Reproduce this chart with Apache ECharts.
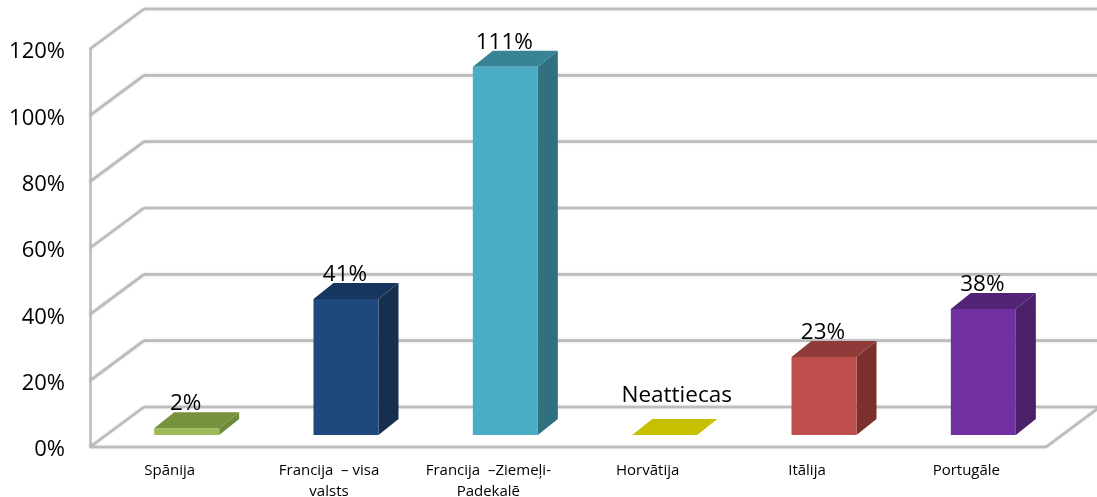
<!DOCTYPE html>
<html>
<head>
<meta charset="utf-8">
<style>html,body{margin:0;padding:0;background:#fff}#c{width:1097px;height:497px}</style>
<script src="https://cdn.jsdelivr.net/npm/echarts@6/dist/echarts.min.js"></script>
</head>
<body>
<div id="c"></div>
<script>
var categories = ['Spānija', 'Francija  – visa\nvalsts', 'Francija  –Ziemeļi-\nPadekalē', 'Horvātija', 'Itālija', 'Portugāle'];
var values = [2, 41, 111, 0, 23.5, 38];
var valueLabels = ['2%', '41%', '111%', 'Neattiecas', '23%', '38%'];
var frontColors = ['#9BBB59', '#1F497D', '#4BACC6', '#C6C000', '#C0504D', '#7030A0'];
var topColors = ['#76923C', '#17365D', '#378497', '#C6C000', '#8E3B39', '#512477'];
var sideColors = ['#6F8A38', '#172F4F', '#31707F', '#C6C000', '#7C302E', '#4A2069'];
var gridTicks = [0, 20, 40, 60, 80, 100, 120];

// 3D projection styling (pixels)
var WALL_DX = 54, WALL_DY = -40;
var BAR_DX = 17, BAR_DY = -12;
var BAR_DEPTH_X = 20, BAR_DEPTH_Y = -16;
var BAR_RATIO = 0.408;
var LINE = { stroke: '#BCBCBC', lineWidth: 2.6, shadowColor: 'rgba(120,120,120,0.35)', shadowBlur: 2 };

function renderGrid(params, api) {
  var y = api.coord([0, api.value(0)])[1];
  var cs = params.coordSys;
  var l = cs.x, r = cs.x + cs.width;
  var children = [
    { type: 'line', shape: { x1: l + WALL_DX, y1: y + WALL_DY, x2: r + WALL_DX + 2, y2: y + WALL_DY }, style: LINE },
    { type: 'line', shape: { x1: l, y1: y, x2: l + WALL_DX, y2: y + WALL_DY }, style: LINE }
  ];
  if (api.value(0) === 0) {
    children.push({ type: 'line', shape: { x1: r, y1: y, x2: r + WALL_DX, y2: y + WALL_DY }, style: LINE });
    children.push({ type: 'line', shape: { x1: l, y1: y, x2: r, y2: y }, style: LINE });
  }
  return { type: 'group', children: children };
}

function renderBar(params, api) {
  var i = params.dataIndex;
  var w = api.size([1, 0])[0] * BAR_RATIO;
  var base = api.coord([i, 0]);
  var top = api.coord([i, api.value(1)]);
  var x0 = base[0] + BAR_DX - w / 2, x1 = x0 + w;
  var yb = base[1] + BAR_DY, yt = top[1] + BAR_DY;
  var dx = BAR_DEPTH_X, dy = BAR_DEPTH_Y;
  var kids = [];
  if (yb - yt > 0.5) {
    kids.push({ type: 'polygon', shape: { points: [[x1, yt], [x1 + dx, yt + dy], [x1 + dx, yb + dy], [x1, yb]] }, style: { fill: sideColors[i] } });
    kids.push({ type: 'rect', shape: { x: x0, y: yt, width: w, height: yb - yt }, style: { fill: frontColors[i] } });
  }
  kids.push({ type: 'polygon', shape: { points: [[x0, yt], [x0 + dx, yt + dy], [x1 + dx, yt + dy], [x1, yt]] }, style: { fill: topColors[i] } });
  var isText = api.value(1) === 0;
  kids.push({
    type: 'text', z2: 10,
    style: {
      text: valueLabels[i],
      x: x0 + w / 2 + (isText ? 12 : -1),
      y: yt + (isText ? -39 : -24.5),
      fill: '#000', align: 'center', verticalAlign: 'middle',
      font: '22.5px "Open Sans", sans-serif'
    }
  });
  return { type: 'group', children: kids };
}

var chart = echarts.init(document.getElementById('c'), null, { renderer: 'canvas' });
chart.setOption({
  animation: false,
  backgroundColor: '#fff',
  grid: { left: 90, right: 51, top: 49, bottom: 50, outerBoundsMode: 'none' },
  xAxis: {
    type: 'category', data: categories,
    axisLine: { show: false }, axisTick: { show: false },
    axisLabel: { interval: 0, margin: 13, color: '#000', fontFamily: 'Open Sans', fontSize: 15, lineHeight: 21 }
  },
  yAxis: {
    type: 'value', min: 0, max: 120, interval: 20,
    splitLine: { show: false }, axisTick: { show: false },
    axisLine: { show: true, lineStyle: { color: '#BCBCBC', width: 2.6 } },
    axisLabel: { margin: 25, color: '#000', fontFamily: 'Open Sans', fontSize: 22, verticalAlign: 'top', lineHeight: 6, formatter: '{value}%' }
  },
  series: [
    { type: 'custom', z: 1, silent: true, data: gridTicks.map(function (v) { return [v]; }), encode: { y: 0 }, renderItem: renderGrid },
    { type: 'custom', z: 3, silent: true, data: values.map(function (v, i) { return [i, v]; }), encode: { x: 0, y: 1 }, renderItem: renderBar }
  ]
});
</script>
</body>
</html>
